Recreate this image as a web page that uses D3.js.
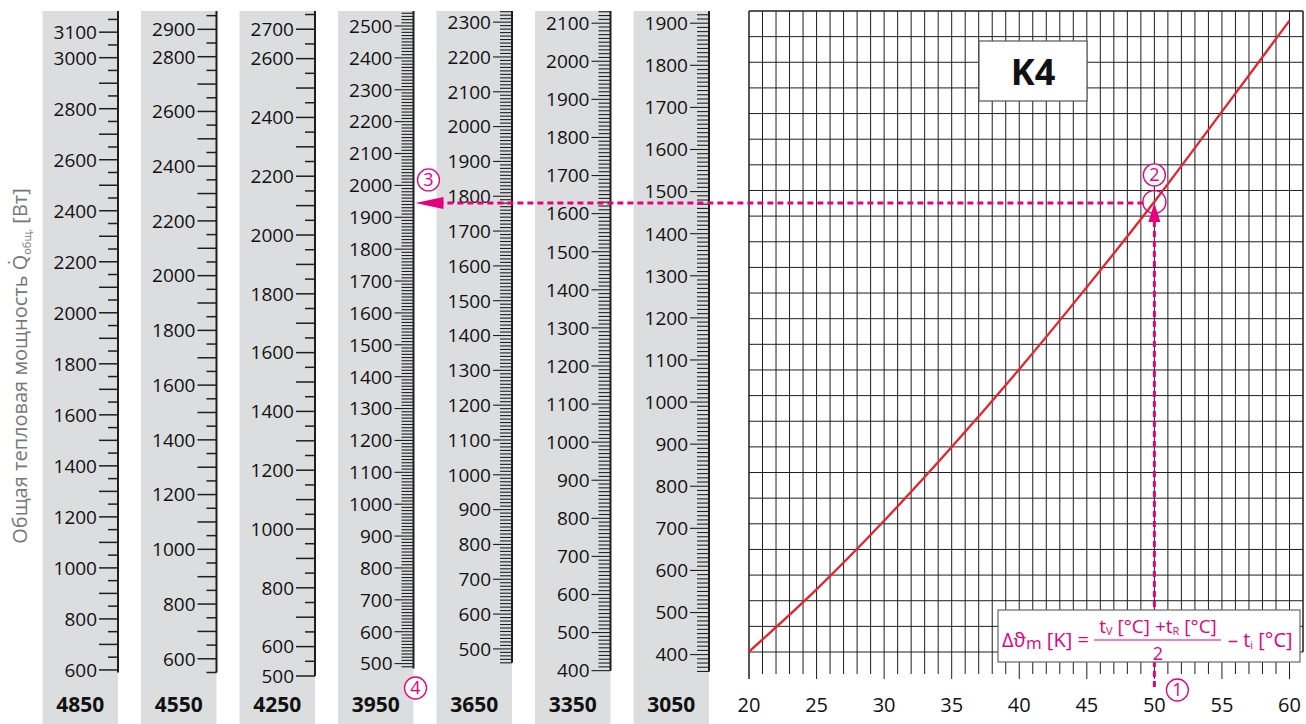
<!DOCTYPE html>
<html><head><meta charset="utf-8">
<script src="https://cdn.jsdelivr.net/npm/d3@7"></script>
<style>
body{margin:0;background:#fff}
svg{display:block}
text{font-family:"Open Sans","Noto Sans",sans-serif}
</style>
</head><body>
<svg id="c" width="1306" height="724"></svg>
<script>
// ---------------- data ----------------
const columns     = [4850, 4550, 4250, 3950, 3650, 3350, 3050];
const axisTop     = [3183, 2967, 2762, 2547, 2332, 2132, 1929];   // value at top end of each scale
const axisBottom  = [590, 550, 500, 485, 460, 400, 360];          // value at bottom end of each scale
const minorStep   = [50, 50, 50, 10, 10, 10, 10];
const labels4850 = [600, 800, 1000, 1200, 1400, 1600, 1800, 2000, 2200, 2400, 2600, 2800, 3000, 3100];
const labels4550 = [600, 800, 1000, 1200, 1400, 1600, 1800, 2000, 2200, 2400, 2600, 2800, 2900];
const labels4250 = [500, 600, 800, 1000, 1200, 1400, 1600, 1800, 2000, 2200, 2400, 2600, 2700];
const labels3950 = [500, 600, 700, 800, 900, 1000, 1100, 1200, 1300, 1400, 1500, 1600, 1700, 1800, 1900, 2000, 2100, 2200, 2300, 2400, 2500];
const labels3650 = [500, 600, 700, 800, 900, 1000, 1100, 1200, 1300, 1400, 1500, 1600, 1700, 1800, 1900, 2000, 2100, 2200, 2300];
const labels3350 = [400, 500, 600, 700, 800, 900, 1000, 1100, 1200, 1300, 1400, 1500, 1600, 1700, 1800, 1900, 2000, 2100];
const labels3050 = [400, 500, 600, 700, 800, 900, 1000, 1100, 1200, 1300, 1400, 1500, 1600, 1700, 1800, 1900];
const columnLabels = [labels4850, labels4550, labels4250, labels3950, labels3650, labels3350, labels3050];

// curve K4 : heat output (read on the 3050 scale) vs. Δϑm
const deltaT   = [20, 25, 30, 35, 40, 45, 50, 55, 60];
const heatK4   = [407, 555, 718, 893, 1078, 1273, 1476, 1690, 1906];
const xTicks   = [20, 25, 30, 35, 40, 45, 50, 55, 60];
const xGridMax = 61;
const gridRows = 25;
const exampleDT = 50, exampleQ3050 = 1473, exampleColumn = 3950;

// ---------------- layout ----------------
const MAG = "#e6007e", INK = "#1e1e1e", BAND = "#dcdddf";
const svg = d3.select("#c");
const topY = 11, zeroY = 823;
const colX = d3.scalePoint().domain(columns).range([118, 709]);
const bandW = 75.5;
const yCol = columns.map((c, i) => d3.scaleLinear().domain([0, axisTop[i]]).range([zeroY, topY]));

// gray bands
svg.append("g").selectAll("rect").data(columns).join("rect")
  .attr("x", d => colX(d) - bandW).attr("y", topY)
  .attr("width", bandW).attr("height", 724 - topY).attr("fill", BAND);

// column scales
columns.forEach((c, i) => {
  const g = svg.append("g");
  const y = yCol[i], ax = colX(c);
  const step = minorStep[i];
  const ticks = [];
  for (let v = Math.ceil(axisBottom[i] / step) * step; v <= axisTop[i]; v += step) ticks.push(v);
  g.selectAll("line.t").data(ticks).join("line")
    .attr("x1", v => ax - (v % 100 === 0 ? 19 : (step === 50 ? 10 : 12)))
    .attr("x2", ax)
    .attr("y1", v => y(v)).attr("y2", v => y(v))
    .attr("stroke", INK).attr("stroke-width", step === 50 ? 1.5 : 1.1);
  g.append("line").attr("x1", ax).attr("x2", ax)
    .attr("y1", y(axisTop[i])).attr("y2", y(axisBottom[i]))
    .attr("stroke", INK).attr("stroke-width", 2);
  g.selectAll("text").data(columnLabels[i]).join("text")
    .attr("x", ax - 21).attr("y", v => y(v)).attr("dy", "0.36em")
    .attr("text-anchor", "end").attr("font-size", 19).attr("fill", "#111")
    .text(v => v);
  svg.append("text").attr("x", ax - bandW / 2).attr("y", 712)
    .attr("text-anchor", "middle").attr("font-size", 21).attr("font-weight", 700)
    .attr("fill", "#111").text(c);
});

// y title
const yt = svg.append("text").attr("transform", "translate(27,366) rotate(-90)")
  .attr("text-anchor", "middle").attr("font-size", 20).attr("fill", "#777");
yt.append("tspan").text("Общая тепловая мощность Q̇");
yt.append("tspan").attr("font-size", 11).attr("dy", 4).text("общ.");
yt.append("tspan").attr("dy", -4).text("  [Вт]");

// ---------------- right chart ----------------
const x = d3.scaleLinear().domain([20, 60]).range([749, 1289.5]);
const yQ = yCol[columns.indexOf(3050)];
const rowY = d3.scaleLinear().domain([0, gridRows]).range([652, topY]);
const grid = svg.append("g");
const xLines = d3.range(20, xGridMax + 1);
grid.selectAll("line.v").data(xLines).join("line")
  .attr("x1", d => x(d)).attr("x2", d => x(d))
  .attr("y1", topY)
  .attr("y2", d => d === xGridMax ? rowY(0) : (d % 5 === 0 ? 679 : 674))
  .attr("stroke", INK).attr("stroke-width", d => (d === 20 || d === xGridMax) ? 1.5 : 1);
grid.selectAll("line.h").data(d3.range(0, gridRows + 1)).join("line")
  .attr("x1", x(20)).attr("x2", x(xGridMax))
  .attr("y1", d => rowY(d)).attr("y2", d => rowY(d))
  .attr("stroke", INK).attr("stroke-width", d => d === gridRows ? 1.5 : 1);

// x tick labels
svg.append("g").selectAll("text").data(xTicks).join("text")
  .attr("x", d => x(d)).attr("y", 712).attr("text-anchor", "middle")
  .attr("font-size", 20).attr("fill", "#111").text(d => d);

// curve
const pts = deltaT.map((t, i) => ({ t, q: heatK4[i] }));
svg.append("path").datum(pts)
  .attr("d", d3.line().x(d => x(d.t)).y(d => yQ(d.q)).curve(d3.curveMonotoneX))
  .attr("fill", "none").attr("stroke", "#e8222a").attr("stroke-width", 2.3);

// example reading: dashed lines + arrows
const ex = x(exampleDT), ey = yQ(exampleQ3050);
const readX = colX(exampleColumn);
svg.append("line").attr("x1", ex - 11).attr("x2", readX + 26).attr("y1", ey).attr("y2", ey)
  .attr("stroke", MAG).attr("stroke-width", 3).attr("stroke-dasharray", "6,4");
svg.append("line").attr("x1", ex).attr("x2", ex).attr("y1", 687).attr("y2", ey + 18)
  .attr("stroke", MAG).attr("stroke-width", 3).attr("stroke-dasharray", "6,4");
svg.append("path").attr("d", `M${readX + 2},${ey} L${readX + 30},${ey - 6} L${readX + 30},${ey + 6} Z`).attr("fill", MAG);
svg.append("path").attr("d", `M${ex},${ey} L${ex - 6},${ey + 19} L${ex + 6},${ey + 19} Z`).attr("fill", MAG);
svg.append("circle").attr("cx", ex).attr("cy", ey - 1).attr("r", 11.5)
  .attr("fill", "none").attr("stroke", MAG).attr("stroke-width", 1.4);

// numbered markers
const markers = [
  { n: "1", cx: ex + 23, cy: 690 },
  { n: "2", cx: ex, cy: ey - 28 },
  { n: "3", cx: readX + 15, cy: ey - 23 },
  { n: "4", cx: readX + 2, cy: 688 }
];
const mg = svg.append("g").selectAll("g").data(markers).join("g")
  .attr("transform", d => `translate(${d.cx},${d.cy})`);
mg.append("circle").attr("r", 11).attr("fill", "#fff").attr("stroke", MAG).attr("stroke-width", 1.3);
mg.append("text").attr("text-anchor", "middle").attr("dy", "0.36em")
  .attr("font-size", 18).attr("fill", MAG).text(d => d.n);

// K4 box
svg.append("rect").attr("x", 979).attr("y", 41).attr("width", 108).attr("height", 60)
  .attr("fill", "#fff").attr("stroke", "#555").attr("stroke-width", 1.2);
svg.append("text").attr("x", 1033).attr("y", 85).attr("text-anchor", "middle")
  .attr("font-size", 36).attr("font-weight", 700).attr("fill", "#111").text("K4");

// formula box
svg.append("rect").attr("x", 998).attr("y", 610).attr("width", 302).attr("height", 52)
  .attr("fill", "#fff").attr("stroke", "#666").attr("stroke-width", 1.2);
const fs = 20;
const f1 = svg.append("text").attr("x", 1002).attr("y", 647).attr("font-size", fs).attr("fill", MAG);
f1.append("tspan").text("Δϑ");
f1.append("tspan").attr("font-size", 17).attr("dy", 2).text("m");
f1.append("tspan").attr("dy", -2).text(" [K] =");
const f2 = svg.append("text").attr("x", 1158).attr("y", 633).attr("text-anchor", "middle").attr("font-size", 19).attr("fill", MAG);
f2.append("tspan").text("t");
f2.append("tspan").attr("font-size", 11).attr("dy", 2).text("V");
f2.append("tspan").attr("dy", -2).text(" [°C] +t");
f2.append("tspan").attr("font-size", 11).attr("dy", 2).text("R");
f2.append("tspan").attr("dy", -2).text(" [°C]");
svg.append("line").attr("x1", 1094).attr("x2", 1221).attr("y1", 640).attr("y2", 640)
  .attr("stroke", MAG).attr("stroke-width", 1.2);
svg.append("text").attr("x", 1158).attr("y", 660).attr("text-anchor", "middle").attr("font-size", 18).attr("fill", MAG).text("2");
const f3 = svg.append("text").attr("x", 1228).attr("y", 647).attr("font-size", fs).attr("fill", MAG);
f3.append("tspan").text("– t");
f3.append("tspan").attr("font-size", 11).attr("dy", 2).text("i");
f3.append("tspan").attr("dy", -2).text(" [°C]");
</script>
</body></html>
